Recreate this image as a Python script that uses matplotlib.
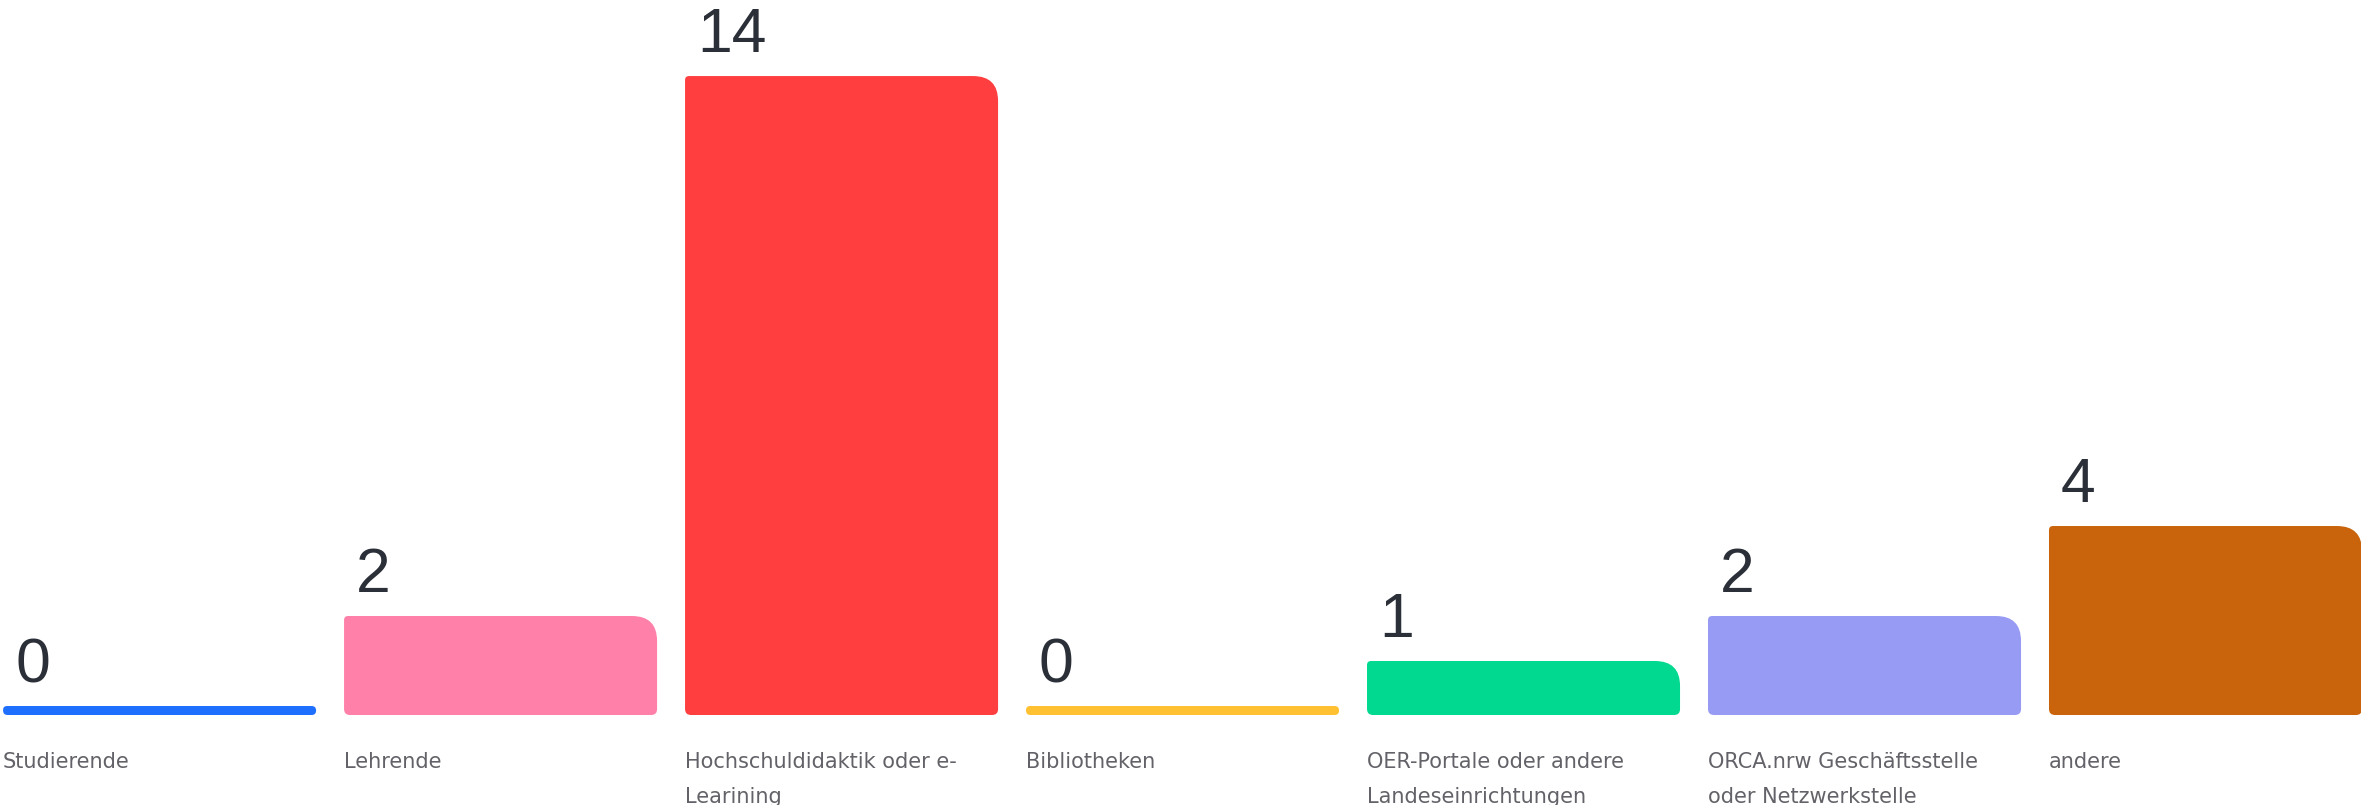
import matplotlib.pyplot as plt
from matplotlib.path import Path
from matplotlib.patches import PathPatch

# Data
categories = [
    "Studierende",
    "Lehrende",
    "Hochschuldidaktik oder e-\nLearining",
    "Bibliotheken",
    "OER-Portale oder andere\nLandeseinrichtungen",
    "ORCA.nrw Geschäftsstelle\noder Netzwerkstelle",
    "andere",
]
values = [0, 2, 14, 0, 1, 2, 4]
colors = ["#1f6fff", "#ff80a8", "#ff3f3f", "#ffc132", "#00d98f", "#989bf3", "#c9640c"]

W, H = 2361, 805
fig = plt.figure(figsize=(W / 100, H / 100), dpi=100)
ax = fig.add_axes([0, 0, 1, 1])
ax.set_xlim(-0.468, 6.456)
ax.set_ylim(-2.0, 15.89)
ax.axis("off")

# pixels per data unit
sx = W / (6.456 + 0.468)
sy = H / (15.89 + 2.0)

bar_w = 0.918
min_h = 0.2  # bars get a small base height so zero values show as a line


def rounded_bar(x0, x1, y0, y1, radii, color):
    # radii in pixels: bottom-left, bottom-right, top-right, top-left
    w_px = (x1 - x0) * sx
    h_px = (y1 - y0) * sy
    r = [min(v, w_px / 2, h_px / 2) for v in radii]
    rx = [v / sx for v in r]
    ry = [v / sy for v in r]
    verts = [
        (x0 + rx[0], y0),
        (x1 - rx[1], y0),
        (x1, y0), (x1, y0 + ry[1]),
        (x1, y1 - ry[2]),
        (x1, y1), (x1 - rx[2], y1),
        (x0 + rx[3], y1),
        (x0, y1), (x0, y1 - ry[3]),
        (x0, y0 + ry[0]),
        (x0, y0), (x0 + rx[0], y0),
        (x0 + rx[0], y0),
    ]
    codes = [Path.MOVETO, Path.LINETO, Path.CURVE3, Path.CURVE3, Path.LINETO,
             Path.CURVE3, Path.CURVE3, Path.LINETO, Path.CURVE3, Path.CURVE3,
             Path.LINETO, Path.CURVE3, Path.CURVE3, Path.CLOSEPOLY]
    ax.add_patch(PathPatch(Path(verts, codes), facecolor=color, edgecolor="none"))


for i, (cat, v, c) in enumerate(zip(categories, values, colors)):
    x0 = i - bar_w / 2
    x1 = i + bar_w / 2
    top = v + min_h
    rounded_bar(x0, x1, 0, top, [6, 6, 25, 4], c)
    ax.annotate(str(v), xy=(x0, top), xytext=(12, 24), textcoords="offset pixels",
                ha="left", va="baseline", fontsize=45, family="Liberation Sans",
                color="#2b2f38")
    ax.annotate(cat, xy=(x0, 0), xytext=(0, -37), textcoords="offset pixels",
                ha="left", va="top", fontsize=15, family="DejaVu Sans",
                color="#626268", linespacing=1.95)

fig.savefig("out.png", dpi=100)
